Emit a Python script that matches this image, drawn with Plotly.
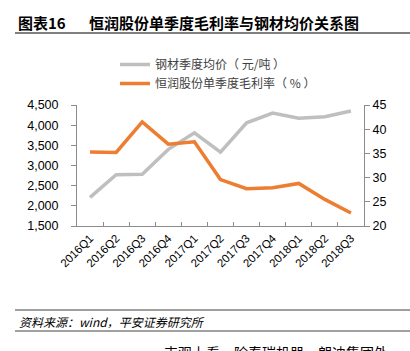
import plotly.graph_objects as go

categories = ["2016Q1", "2016Q2", "2016Q3", "2016Q4", "2017Q1", "2017Q2",
              "2017Q3", "2017Q4", "2018Q1", "2018Q2", "2018Q3"]
steel_price = [2210, 2770, 2780, 3400, 3810, 3330, 4060, 4300, 4170, 4210, 4350]
gross_margin = [35.3, 35.2, 41.5, 36.9, 37.4, 29.6, 27.7, 27.9, 28.8, 25.5, 22.7]

W, H = 410, 351
L, R, T, B = 77, 364, 105, 226  # plot area in pixels

def px(x):
    return (x - L) / (R - L)

def py(y):
    return (B - y) / (B - T)

FONT = "Liberation Sans, Arial, Noto Sans CJK SC"
CJK = "Noto Sans CJK SC, Liberation Sans"

fig = go.Figure()
fig.add_trace(go.Scatter(
    x=categories, y=steel_price, name="钢材季度均价（ 元/吨 ）",
    mode="lines", line=dict(color="#BFBFBF", width=3.5), yaxis="y"))
fig.add_trace(go.Scatter(
    x=categories, y=gross_margin, name="恒润股份单季度毛利率（ % ）",
    mode="lines", line=dict(color="#ED7D31", width=3.5), yaxis="y2"))

axis_line = "#8C8C8C"
fig.update_layout(
    width=W, height=H,
    margin=dict(l=L, r=W - R, t=T, b=H - B),
    paper_bgcolor="white", plot_bgcolor="white",
    font=dict(family=FONT, size=12, color="#000000"),
    showlegend=True,
    legend=dict(x=px(115), y=py(50), xanchor="left", yanchor="top",
                bgcolor="rgba(0,0,0,0)", font=dict(family=CJK, size=12, color="#404040"),
                tracegroupgap=0, itemwidth=30),
    xaxis=dict(type="category", showgrid=False, showline=True, linecolor=axis_line,
               linewidth=1, ticks="inside", ticklen=4, tickcolor=axis_line,
               tickson="boundaries", tickangle=-45,
               tickfont=dict(family=FONT, size=11.5, color="#000000"),
               zeroline=False, range=[-0.5, 10.5]),
    yaxis=dict(range=[1500, 4500], dtick=500, tickformat=",", showgrid=False,
               showline=True, linecolor=axis_line, linewidth=1, ticks="outside",
               ticklen=5, tickcolor=axis_line, zeroline=False, ticklabelstandoff=10,
               tickfont=dict(family=FONT, size=12.5, color="#000000")),
    yaxis2=dict(range=[20, 45], dtick=5, overlaying="y", side="right",
                showgrid=False, showline=True, linecolor=axis_line, linewidth=1,
                ticks="outside", ticklen=5, tickcolor=axis_line, zeroline=False,
                tickfont=dict(family=FONT, size=12.5, color="#000000")),
)

# Title
fig.add_annotation(text="<b>图表16</b>", xref="paper", yref="paper",
                   x=px(16), y=py(22), xanchor="left", yanchor="middle",
                   showarrow=False, font=dict(family=CJK, size=15, color="#000000"))
fig.add_annotation(text="<b>恒润股份单季度毛利率与钢材均价关系图</b>", xref="paper", yref="paper",
                   x=px(87), y=py(22), xanchor="left", yanchor="middle",
                   showarrow=False, font=dict(family=CJK, size=15, color="#000000"))
fig.add_shape(type="line", xref="paper", yref="paper", x0=px(15), x1=px(412),
              y0=py(33), y1=py(33), line=dict(color="#7F7F7F", width=2))

# Source
fig.add_shape(type="line", xref="paper", yref="paper", x0=px(15), x1=px(412),
              y0=py(310), y1=py(310), line=dict(color="#404040", width=1))
fig.add_annotation(text="<i>资料来源：wind，平安证券研究所</i>", xref="paper", yref="paper",
                   x=px(17), y=py(321), xanchor="left", yanchor="middle",
                   showarrow=False, font=dict(family=CJK, size=12, color="#000000"))
fig.add_shape(type="line", xref="paper", yref="paper", x0=px(15), x1=px(412),
              y0=py(331), y1=py(331), line=dict(color="#404040", width=1))
fig.add_annotation(text="支观上看，除春瑞机器，朗迪集团外", xref="paper", yref="paper",
                   x=px(162), y=py(340), xanchor="left", yanchor="top",
                   showarrow=False, font=dict(family=CJK, size=14, color="#000000"))

fig.write_html("out.html")
